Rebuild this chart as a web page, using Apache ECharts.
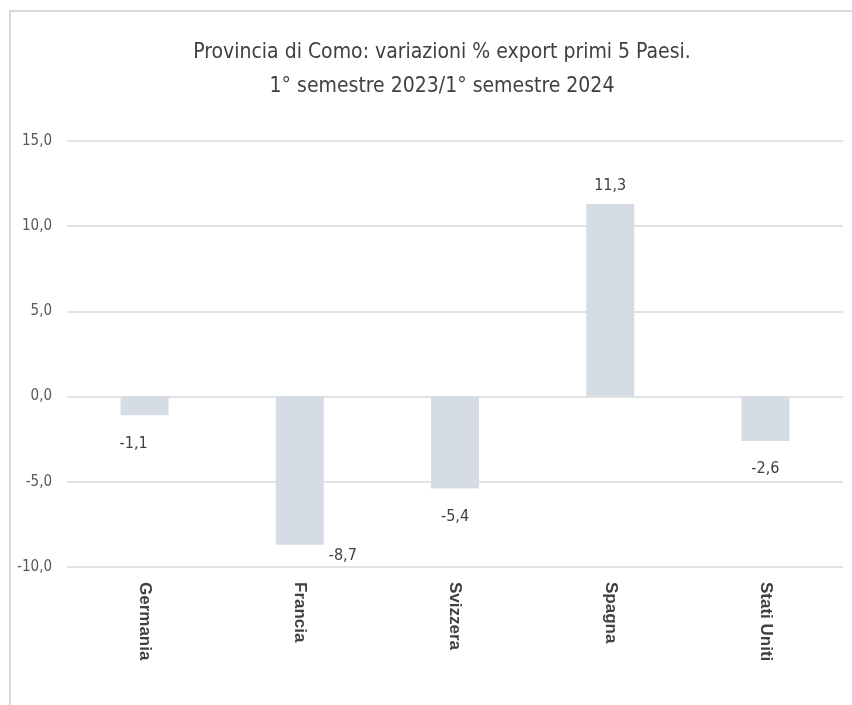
<!DOCTYPE html>
<html>
<head>
<meta charset="utf-8">
<script src="https://cdn.jsdelivr.net/npm/echarts@6/dist/echarts.min.js"></script>
<style>
html,body{margin:0;padding:0;background:#fff;}
#chart{width:852px;height:705px;}
</style>
</head>
<body>
<div id="chart"></div>
<script>
const titleLines = ["Provincia di Como: variazioni % export primi 5 Paesi.", "1° semestre 2023/1° semestre 2024"];
const categories = ["Germania", "Francia", "Svizzera", "Spagna", "Stati Uniti"];
const values = [-1.1, -8.7, -5.4, 11.3, -2.6];
const yTicks = { min: -10, max: 15, interval: 5 };

const narrow = "'Liberation Sans Narrow', 'DejaVu Sans Condensed', 'Liberation Sans', sans-serif";
const fmt = v => v.toFixed(1).replace('.', ',');

const chart = echarts.init(document.getElementById('chart'));
const seriesData = values.map((v, i) => {
  const item = { value: v };
  if (v >= 0) {
    item.label = { position: 'top', distance: 10 };
  } else if (i === 1) {
    item.label = { position: 'bottom', distance: 3, offset: [43, 0] };
  } else if (i === 0) {
    item.label = { position: 'bottom', distance: 20, offset: [-11, 0] };
  } else {
    item.label = { position: 'bottom', distance: 20 };
  }
  return item;
});

chart.setOption({
  backgroundColor: '#ffffff',
  animation: false,
  graphic: [{
    type: 'rect',
    shape: { x: 10, y: 11, width: 1000, height: 1000 },
    style: { fill: 'none', stroke: '#d9d9d9', lineWidth: 2 },
    silent: true
  }],
  title: {
    text: titleLines.join('\n'),
    left: 437,
    textAlign: 'center',
    top: 31,
    textStyle: {
      fontFamily: narrow,
      fontSize: 21,
      fontWeight: 'normal',
      color: '#404040',
      lineHeight: 34
    }
  },
  grid: { left: 67, right: 9, top: 141, bottom: 138, containLabel: false },
  xAxis: {
    type: 'category',
    data: categories,
    axisLine: { show: false },
    axisTick: { show: false },
    axisLabel: {
      rotate: -90,
      margin: 15,
      fontFamily: "'Liberation Sans', Arial, sans-serif",
      fontSize: 17,
      fontWeight: 'bold',
      color: '#404040'
    },
    splitLine: { show: false }
  },
  yAxis: {
    type: 'value',
    min: yTicks.min,
    max: yTicks.max,
    interval: yTicks.interval,
    axisLine: { show: false },
    axisTick: { show: false },
    axisLabel: {
      margin: 15,
      fontFamily: narrow,
      fontSize: 15,
      color: '#595959',
      formatter: v => fmt(v)
    },
    splitLine: { lineStyle: { color: '#d9d9d9', width: 1.5 } }
  },
  series: [{
    type: 'bar',
    data: seriesData,
    barWidth: 48,
    itemStyle: { color: '#d6dce5' },
    label: {
      show: true,
      fontFamily: narrow,
      fontSize: 16,
      color: '#404040',
      formatter: p => fmt(p.value)
    }
  }]
});
</script>
</body>
</html>
